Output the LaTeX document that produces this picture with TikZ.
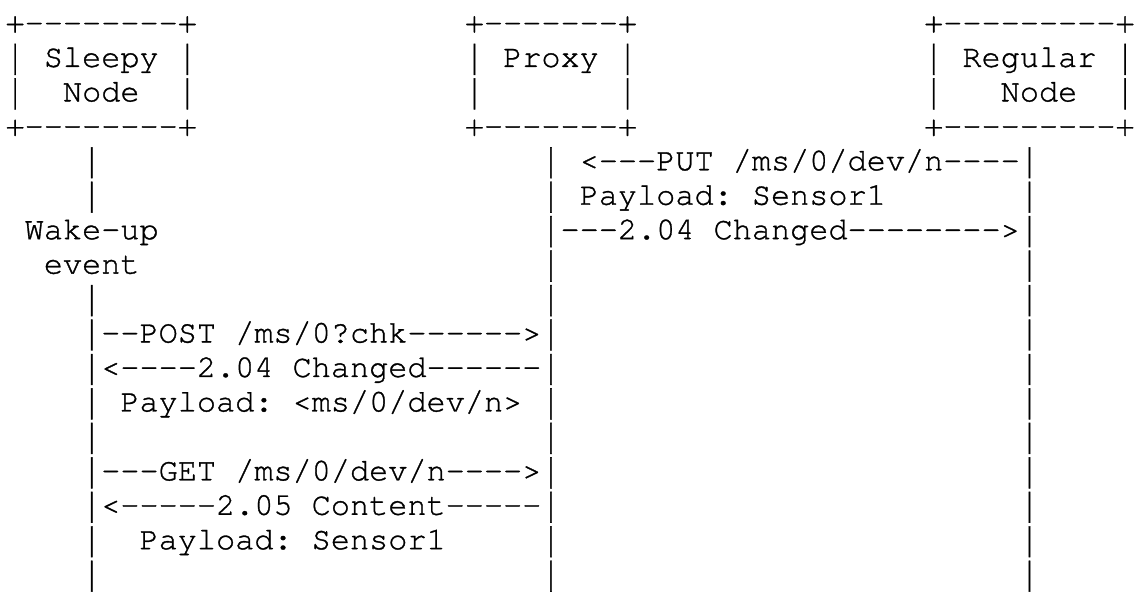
\documentclass[tikz,border=0pt]{standalone}
\usepackage{graphicx}
\usepackage{fontspec}
\setmonofont{texgyrecursor}[Extension=.otf, UprightFont=*-regular, UprightFeatures={FakeBold=1}]
% full-height bar, one em from descender to ascender
\newcommand{\vbar}{\raisebox{-0.25em}{\resizebox*{\width}{0.97em}{\raisebox{\depth}{|}}}}

\begin{document}
\begin{tikzpicture}[x=19.22pt, y=-34.6pt]
        % Styles
        \tikzstyle{ascii} = [anchor=base west, inner sep=0pt, text=black, font=\ttfamily\fontsize{32.03pt}{34.6pt}\selectfont]

        \useasboundingbox[fill=white] (-5.4pt,-2pt) rectangle (1134.5pt,-596.5pt);

        % Boxes
        \node [ascii] (sleepyTop) at (0,1) {+--------+};
        \node [ascii] (proxyTop) at (24,1) {+-------+};
        \node [ascii] (regularTop) at (48,1) {+---------+};
        \foreach \r in {2,3} {
            \node [ascii] (sleepyL\r) at (0,\r) {\vbar};
            \node [ascii] (sleepyR\r) at (9,\r) {\vbar};
            \node [ascii] (proxyL\r) at (24,\r) {\vbar};
            \node [ascii] (proxyR\r) at (32,\r) {\vbar};
            \node [ascii] (regularL\r) at (48,\r) {\vbar};
            \node [ascii] (regularR\r) at (58,\r) {\vbar};
        }
        \node [ascii] (sleepyName) at (2,2) {Sleepy};
        \node [ascii] (sleepyName2) at (3,3) {Node};
        \node [ascii] (proxyName) at (26,2) {Proxy};
        \node [ascii] (regularName) at (50,2) {Regular};
        \node [ascii] (regularName2) at (52,3) {Node};
        \node [ascii] (sleepyBot) at (0,4) {+--------+};
        \node [ascii] (proxyBot) at (24,4) {+-------+};
        \node [ascii] (regularBot) at (48,4) {+---------+};

        % Lifelines
        \foreach \r in {5,6,9,10,...,17}
            \node [ascii] (sleepyLife\r) at (4,\r) {\vbar};
        \foreach \r in {5,...,17} {
            \node [ascii] (proxyLife\r) at (28,\r) {\vbar};
            \node [ascii] (regularLife\r) at (53,\r) {\vbar};
        }
        \node [ascii] (wake) at (1,7) {Wake-up};
        \node [ascii] (event) at (2,8) {event};

        % Messages
        \node [ascii] (putReq) at (30,5) {<---PUT /ms/0/dev/n----};
        \node [ascii] (putLoad) at (30,6) {Payload: Sensor1};
        \node [ascii] (putResp) at (29,7) {---2.04 Changed-------->};
        \node [ascii] (postReq) at (5,10) {--POST /ms/0?chk------>};
        \node [ascii] (postResp) at (5,11) {<----2.04 Changed------};
        \node [ascii] (postLoad) at (6,12) {Payload: <ms/0/dev/n>};
        \node [ascii] (getReq) at (5,14) {---GET /ms/0/dev/n---->};
        \node [ascii] (getResp) at (5,15) {<-----2.05 Content-----};
        \node [ascii] (getLoad) at (7,16) {Payload: Sensor1};

    \end{tikzpicture}
\end{document}
